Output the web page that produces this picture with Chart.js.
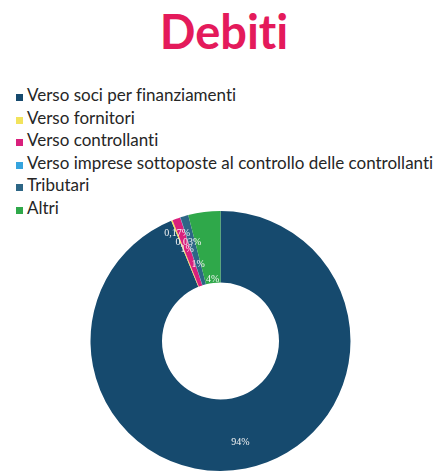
<!doctype html>
<html lang="it">
<head>
    <meta charset="utf-8">
    <title>Debiti</title>
    <style>
        body { margin: 0; width: 435px; height: 473px; background: #fff; position: relative; overflow: hidden; font-family: Lato, sans-serif; }
        h1 { position: absolute; top: 3px; left: 0; width: 448px; margin: 0; text-align: center; font-size: 47px; font-weight: 700; color: #e41a5b; font-variant-ligatures: none; }
        #legend { position: absolute; left: 16px; top: 84px; margin: 0; padding: 0; list-style: none; }
        #legend li { height: 22.5px; line-height: 22.5px; font-size: 17px; color: #262626; white-space: nowrap; font-variant-ligatures: none; }
        #legend span { display: inline-block; width: 7px; height: 7px; margin-right: 4px; vertical-align: 0; }
        #chart-box { position: absolute; left: 3px; top: 211px; width: 435px; height: 260px; }
    </style>
</head>
<body>
    <h1>Debiti</h1>
    <ul id="legend"></ul>
    <div id="chart-box"><canvas id="chart"></canvas></div>

    <script src="https://cdn.jsdelivr.net/npm/chart.js"></script>
    <script>
        const categories = [
            "Verso soci per finanziamenti",
            "Verso fornitori",
            "Verso controllanti",
            "Verso imprese sottoposte al controllo delle controllanti",
            "Tributari",
            "Altri"
        ];
        const values = [94, 0.17, 1, 0.03, 1, 4];
        const colors = ["#164a6e", "#f2e35c", "#d9207c", "#35a4de", "#2d6686", "#2fa84a"];

        // where each label sits between inner (0) and outer (1) edge of the ring
        const labelRadius = [0.62, 0.8, 0.55, 0.63, 0.3, 0.05];

        const sliceLabels = {
            id: "sliceLabels",
            afterDatasetsDraw(chart) {
                const { ctx } = chart;
                const meta = chart.getDatasetMeta(0);
                ctx.save();
                ctx.font = "10px 'Liberation Serif'";
                ctx.fillStyle = "#f4f4f4";
                ctx.textAlign = "center";
                ctx.textBaseline = "middle";
                meta.data.forEach((arc, i) => {
                    const a = (arc.startAngle + arc.endAngle) / 2;
                    const r = arc.innerRadius + labelRadius[i] * (arc.outerRadius - arc.innerRadius);
                    const txt = values[i].toLocaleString("it-IT") + "%";
                    ctx.fillText(txt, arc.x + Math.cos(a) * r, arc.y + Math.sin(a) * r);
                });
                ctx.restore();
            }
        };

        const chart = new Chart(document.getElementById("chart"), {
            type: "doughnut",
            data: {
                labels: categories,
                datasets: [{
                    data: values,
                    backgroundColor: colors,
                    borderWidth: 0
                }]
            },
            options: {
                responsive: true,
                maintainAspectRatio: false,
                animation: false,
                cutout: "45%",
                plugins: {
                    legend: { display: false },
                    tooltip: { enabled: false }
                }
            },
            plugins: [sliceLabels]
        });

        // html legend, one item per line
        const legend = document.getElementById("legend");
        chart.options.plugins.legend.labels.generateLabels(chart).forEach(item => {
            const li = document.createElement("li");
            const box = document.createElement("span");
            box.style.background = item.fillStyle;
            li.append(box, item.text);
            legend.append(li);
        });
    </script>
</body>
</html>
